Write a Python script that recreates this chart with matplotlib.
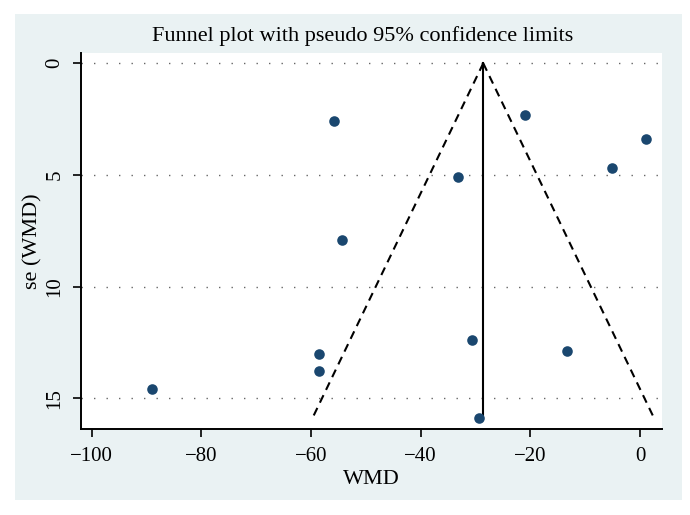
import matplotlib
matplotlib.use("Agg")
import matplotlib.pyplot as plt
from matplotlib.patches import Rectangle
import numpy as np

# study estimates
wmd = [-89.1, -55.8, -54.4, -58.5, -58.5, -33.2, -30.6, -29.4, -21.0, 1.0, -5.2, -13.3]
se = [14.6, 2.6, 7.9, 13.0, 13.8, 5.1, 12.4, 15.9, 2.3, 3.4, 4.7, 12.9]
pooled = -28.6
se_max = 15.9

plt.rcParams['font.family'] = ['Liberation Serif', 'DejaVu Serif']

fig = plt.figure(figsize=(6.9, 5.15), dpi=100)
fig.patch.set_facecolor('white')
# stata style light background panel
fig.patches.append(Rectangle((15 / 690, 1 - 500 / 515), 667 / 690, 486 / 515,
                             transform=fig.transFigure, facecolor='#eaf2f3',
                             edgecolor='none', zorder=-5))

ax = fig.add_axes([81 / 690, 1 - 429 / 515, 581 / 690, 376 / 515])
ax.set_facecolor('white')

# pseudo 95% limits
se_line = np.array([0, se_max])
ax.plot(pooled - 1.96 * se_line, se_line, color='black', lw=1.5, ls=(0, (4, 2.8)))
ax.plot(pooled + 1.96 * se_line, se_line, color='black', lw=1.5, ls=(0, (4, 2.8)))
ax.plot([pooled, pooled], [0, se_max], color='black', lw=1.5)

ax.scatter(wmd, se, s=58, color='#1a476f', zorder=3, linewidths=0)

for yv in [0, 5, 10, 15]:
    ax.axhline(yv, color='#666666', lw=1, ls=(0, (1, 8)), zorder=1)

ax.set_xlim(-101.96, 4.0)
ax.set_ylim(16.38, -0.46)
ax.set_xticks([-100, -80, -60, -40, -20, 0])
ax.set_yticks([0, 5, 10, 15])
ax.set_xticklabels(['\u2212100', '\u221280', '\u221260', '\u221240', '\u221220', '0'])

for side in ['top', 'right']:
    ax.spines[side].set_visible(False)
for side in ['left', 'bottom']:
    ax.spines[side].set_linewidth(1.4)

ax.tick_params(axis='both', length=6, width=1.2, labelsize=15)
ax.tick_params(axis='x', pad=7)
ax.tick_params(axis='y', pad=6)
for lab in ax.get_yticklabels():
    lab.set_rotation(90)
    lab.set_va('center')

ax.set_xlabel('WMD', fontsize=16, labelpad=3)
ax.set_ylabel('se (WMD)', fontsize=16, labelpad=2)
fig.text(363 / 690, 1 - 36 / 515, 'Funnel plot with pseudo 95% confidence limits',
         ha='center', va='center', fontsize=16)

fig.savefig('out.png', dpi=100)
